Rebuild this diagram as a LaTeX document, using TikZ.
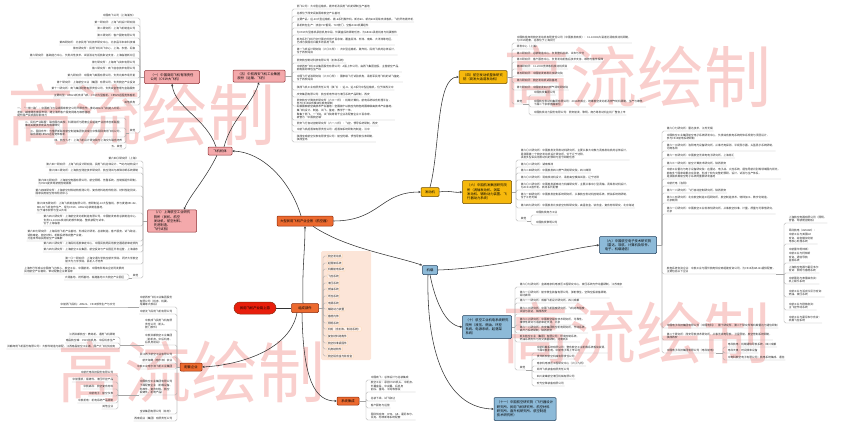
\documentclass[tikz,border=0pt]{standalone}
\usepackage{fontspec}
\setmainfont{Noto Sans CJK SC}
\usetikzlibrary{arrows.meta}

\definecolor{pinkfill}{HTML}{F4A9AB}
\definecolor{pinkdraw}{HTML}{8E2F33}
\definecolor{goldfill}{HTML}{F6B80C}
\definecolor{golddraw}{HTML}{6B4A00}
\definecolor{bluefill}{HTML}{8DBAD8}
\definecolor{bluedraw}{HTML}{1F3F5C}
\definecolor{orangefill}{HTML}{EC6A2F}
\definecolor{orangedraw}{HTML}{8A2A0C}
\definecolor{redfill}{HTML}{E81E0C}
\definecolor{peach}{HTML}{FCE5D8}
\definecolor{markpink}{HTML}{F9CFCD}

\tikzstyle{hub}=[draw, line width=0.5pt, rounded corners=1pt, inner sep=1.2pt, align=left, font=\fontsize{3.3}{4.2}\selectfont]
\tikzstyle{pinkhub}=[hub, fill=pinkfill, draw=pinkdraw]
\tikzstyle{goldhub}=[hub, fill=goldfill, draw=golddraw]
\tikzstyle{bluehub}=[hub, fill=bluefill, draw=bluedraw]
\tikzstyle{orangehub}=[hub, fill=orangefill, draw=orangedraw]
\tikzstyle{leaf}=[inner sep=0.6pt, align=left, text=black!85, font=\fontsize{2.7}{3.8}\selectfont]
\tikzstyle{pitem}=[leaf, draw=orange!30, fill=white!55!peach, rounded corners=0.6pt, inner sep=0.8pt]
\tikzstyle{twig}=[draw=black!35, line width=0.3pt, rounded corners=1.6pt]
\tikzstyle{branch}=[draw=black!80, line width=0.55pt, -{Stealth[length=2.4pt,width=2.2pt]}]
\tikzstyle{watermark}=[text=markpink, font=\fontsize{67}{67}\selectfont]

\begin{document}
\begin{tikzpicture}[x=1pt,y=-1pt]
\useasboundingbox (0,0) rectangle (862,429);

% watermarks
\foreach \wx/\wy in {637/77, 142/115, 191/372, 636/333}
  \node[watermark] at (\wx,\wy) {高流绘制};

% hubs
\node[orangehub, minimum width=56pt, minimum height=10pt] (quanjing) at (305,221) {大型民用飞机产业全景（航空器）};
\node[pinkhub, minimum width=24pt, minimum height=8pt] (jiti) at (220,151) {飞机机体};
\node[pinkhub, minimum width=55pt, minimum height=13pt] (yi) at (172,77) {（一）中国商用飞机有限责任\\公司（C919大飞机）};
\node[pinkhub, minimum width=52pt, minimum height=12pt] (wu) at (259,76) {（五）中航西安飞机工业集团\\股份（运输、飞豹）};
\node[pinkhub, minimum width=49pt, minimum height=22pt] (ba) at (172,221) {（八）上海航空工业研究\\院所（民机、航空\\发动机、航空材料、\\先进制造、\\飞行试验）};
\node[goldhub, minimum width=18pt, minimum height=9pt] (fadongji) at (430,192) {发动机};
\node[goldhub, minimum width=48pt, minimum height=13pt] (si) at (483,77) {（四）航空发动机整体研究\\院（商发大涵道发动机）};
\node[goldhub, minimum width=49pt, minimum height=23pt] (liu) at (487,192) {（六）中国航发集团研究院\\所（涡轴发动机、涡桨\\发动机、辅助动力装置、飞\\行器动力系统）};
\node[bluehub, minimum width=15pt, minimum height=9pt] (jizai) at (430,270) {机载};
\node[bluehub, minimum width=57pt, minimum height=17pt] (jiu) at (628,245) {（九）中国航空电子技术研究院\\（雷达、导航、计算机及软件、\\电子、机载通信）};
\node[bluehub, minimum width=49pt, minimum height=23pt] (shi) at (487,327) {（十）航空工业机电系统研究\\院所（液压、燃油、环控\\系统、电源系统、起落架\\系统）};
\node[bluehub, minimum width=62pt, minimum height=23pt] (shiyi) at (525,409) {（十一）中国航空研究院（飞行器设计\\研究所、民用飞机研究所、航空材料\\研究所、直升机研究所、航空制造\\技术研究所）};
\node[orangehub, minimum width=27pt, minimum height=9pt] (bujian) at (305,308) {组成部件};
\node[hub, fill=redfill, draw=orangedraw, rounded corners=6pt, minimum width=42pt, minimum height=12pt, align=center] (shangyou) at (255,308) {民用飞机产业链上游};
\node[orangehub, minimum width=22pt, minimum height=8pt] (peitao) at (191,367) {配套企业};
\node[orangehub, minimum width=22pt, minimum height=8pt] (xitong) at (348,401) {系统集成};

% branches
\draw[branch] ([xshift=-4pt]quanjing.north) .. controls (290,180) and (262,152) .. (jiti.east);
\draw[branch] ([xshift=-4pt]jiti.north) .. controls (206,118) and (175,108) .. (yi.south);
\draw[branch] ([xshift=4pt]jiti.north) .. controls (232,118) and (252,105) .. (wu.south);
\draw[branch] ([xshift=-3pt]jiti.south) .. controls (205,180) and (190,195) .. ([xshift=12pt]ba.north);
\draw[branch] (quanjing.east) .. controls (380,221) and (380,192) .. (fadongji.west);
\draw[branch] (fadongji.north) .. controls (440,150) and (436,77) .. (si.west);
\draw[branch] (fadongji.east) .. controls (450,190) and (452,193) .. (liu.west);
\draw[branch] ([xshift=8pt]quanjing.south) .. controls (345,248) and (395,256) .. (jizai.north west);
\draw[branch] (jizai.east) .. controls (500,268) and (560,250) .. (jiu.west);
\draw[branch] (jizai.south) .. controls (435,300) and (445,325) .. (shi.west);
\draw[branch] ([xshift=-2pt]jizai.south) .. controls (426,360) and (450,408) .. (shiyi.west);
\draw[branch] ([xshift=-2pt]bujian.north) .. controls (302,270) and (305,250) .. (quanjing.south);
\draw[line width=0.55pt, black!80] (shangyou) -- (bujian);
\draw[branch] ([xshift=-8pt]bujian.south) .. controls (290,350) and (240,365) .. (peitao.east);
\draw[branch] ([xshift=-3pt]bujian.south) .. controls (303,380) and (315,401) .. (xitong.west);

% (一) list
\coordinate (yi-s) at (140,77);
\draw[twig] (yi.west) -- (yi-s);
\foreach \y/\t [count=\i] in {
  18/{中国商飞公司（上海浦东）},
  25/{第一研究所：上海飞机设计研究院},
  31/{第二研究所：上海飞机制造公司},
  38/{第三研究所：客户服务有限公司},
  45/{第四研究所：北京民用飞机技术研究中心，北京昌平未来科技城},
  51/{第五研究所：民用飞机试飞中心，上海、东营、阎良},
  58/{第六研究所：基础能力中心，负责共性技术、试验验证与适航取证支持，上海临港新片区},
  65/{第七研究所：上海商飞资本有限公司},
  71/{第八研究所：商飞信息技术有限公司},
  78/{第九研究所：中国商飞美国有限公司，负责北美市场开拓},
  85/{第十研究所：上海航空工业（集团）有限公司，负责航空产业投资},
  91/{第十一研究所：商飞集团财务有限责任公司，负责资金管理与金融服务},
  98/{主要机型：ARJ21新支线飞机、C919大型客机、CR929远程宽体客机},
  105/{其他机构}}{
  \node[leaf, anchor=south east] (yi\i) at (136,\y) {\t};
  \draw[twig] (yi-s) |- (yi\i.south east) -- (yi\i.south west);
}
\node[leaf, anchor=south east] (yiqt) at (136,133) {其他};
\draw[twig] (yi-s) |- (yiqt.south east) -- (yiqt.south west);
\coordinate (yiqt-s) at (126,133);
\draw[twig] (yiqt.south west) -- (yiqt-s);
\foreach \y/\t [count=\i] in {
  118/{一、“一带一路”：中国商飞与沿线国家航空公司开展合作，推动ARJ21飞机进入印尼、\\老挝、越南等东南亚市场，建立海外客户服务网络与维修基地，\\提升国产民机国际影响力},
  128/{二、民机产业联盟：联合国内高校、科研院所与配套企业组建产业技术创新联盟，\\推动关键技术攻关与成果转化},
  137/{三、国际合作：与俄罗斯联合航空制造集团合资成立中俄国际商用飞机公司，\\联合研制CR929远程宽体客机},
  143/{四、航空人才：上海飞机设计研究院与上海交大联合培养},
  149/{五、其他}}{
  \node[leaf, anchor=south east] (yiq\i) at (123,\y) {\t};
  \draw[twig] (yiqt-s) |- (yiq\i.south east) -- (yiq\i.south west);
}

% (五) list
\coordinate (wu-s) at (292,76);
\draw[twig] (wu.east) -- (wu-s);
\foreach \y/\t [count=\i] in {
  9/{西飞公司：大中型运输机、轰炸机及民用飞机的研制生产基地},
  16/{总部位于西安阎良国家航空产业基地},
  22/{主要产品：运-20大型运输机、轰-6系列轰炸机、新舟60、新舟600涡桨支线客机、飞豹歼击轰炸机},
  28/{民机转包生产：波音737垂尾、747舱门、空客A320机翼组件},
  35/{为C919大型客机承担机身中段、外翼盒段的研制任务，为ARJ21承担机身与机翼部件},
  45/{新舟系列飞机已交付国内外用户百余架，覆盖亚洲、非洲、南美、大洋洲等地区，\\已成为我国出口最多的民用飞机},
  55/{第一飞机设计研究院（六〇三所）：大中型运输机、轰炸机、民用飞机的总体设计，\\位于西安阎良},
  63/{西安航空制动科技有限公司（刹车系统）},
  72/{中航西安飞机工业集团股份有限公司：A股上市公司，由西飞集团控股，主营航空产品，\\拥有国际转包生产线},
  82/{中国飞行试验研究院（六三〇所）：国家级飞行试验机构，承担军民用飞机的试飞鉴定，\\位于西安阎良},
  90/{陕西飞机工业有限责任公司（陕飞）：运-8、运-9系列中型运输机，位于陕西汉中},
  97/{庆安集团有限公司：航空机电作动与液压系统产品研制，西安},
  106/{西安航空计算技术研究所（六三一所）：机载计算机、航电系统综合处理平台，\\参与C919综合模块化航电研制},
  120/{阎良国家航空高技术产业基地：全国首个以航空为特色的国家级高技术产业基地，\\集飞机设计、制造、试飞、鉴定、教学于一体，\\聚集了西飞、一飞院、试飞院等骨干企业及配套企业三百余家，\\被誉为“中国航空城”},
  126/{西安飞行自动控制研究所（六一八所）：飞控、惯导系统研制，西安},
  132/{中航飞机起落架有限责任公司：起落架系统研制与制造，汉中},
  142/{陕西宝成航空仪表有限责任公司：航空陀螺、惯性导航仪表研制，\\陕西宝鸡}}{
  \node[leaf, anchor=south west] (wu\i) at (296,\y) {\t};
  \draw[twig] (wu-s) |- (wu\i.south west) -- (wu\i.south east);
}

% (八) list
\coordinate (ba-s) at (143,221);
\draw[twig] (ba.west) -- (ba-s);
\foreach \y/\t [count=\i] in {
  161/{第六四〇研究所（上海）},
  167/{第六四一研究所：上海飞机设计研究院，民用飞机总体设计、气动与结构设计},
  173/{第六四二研究所：上海航空测控技术研究所，航空测试与故障诊断系统研制},
  186/{第六四三研究所：上海航空电器有限公司，航空照明、告警系统、控制板组件研制，\\为C919提供驾驶舱控制面板},
  196/{第六四四研究所：上海航空材料结构检测公司，复合材料结构件检测、材料性能测试，\\国家民用航空材料检测中心},
  213/{第六四五研究所：上海飞机制造有限公司，曾研制运-10大型客机，参与麦道MD-82、\\MD-90飞机合作生产，现为C919、ARJ21总装制造基地，\\位于浦东祝桥与宝山大场},
  226/{第六四六研究所：上海航空发动机制造有限公司，中国航发商发总装制造中心，\\负责CJ-1000A发动机的部件制造、整机装配与试车，\\位于上海临港},
  241/{第六四七研究所：上海民用飞机产业基地，形成设计研发、总装制造、客户服务、试飞取证、\\适航审定、航空材料、机载系统等完整产业链，\\打造世界级民用航空产业集群},
  246/{第六四八研究所：上海民机适航审定中心，中国民航局民用航空器适航审定机构},
  252/{第六四九研究所：上海航空工业集团，航空投资与产业园区开发运营，上海浦东},
  264/{第一〇一研究所：上海交通大学航空航天学院、同济大学航空\\航天与力学学院，民机人才培养}}{
  \node[leaf, anchor=south east] (ba\i) at (139,\y) {\t};
  \draw[twig] (ba-s) |- (ba\i.south east) -- (ba\i.south west);
}
\node[leaf, anchor=south east] (baqt) at (139,278) {其他};
\draw[twig] (ba-s) |- (baqt.south east) -- (baqt.south west);
\coordinate (baqt-s) at (129,278);
\draw[twig] (baqt.south west) -- (baqt-s);
\foreach \y/\t [count=\i] in {
  274/{上海市已形成以中国商飞为核心，航空工业、中国航发、中国电科等央企协同发展的\\民用航空产业格局，带动配套企业数百家},
  280/{大场基地、祝桥基地、临港基地三大航空产业园区}}{
  \node[leaf, anchor=south east] (baq\i) at (125,\y) {\t};
  \draw[twig] (baqt-s) |- (baq\i.south east) -- (baq\i.south west);
}

% (四) list
\coordinate (si-s) at (512,77);
\draw[twig] (si.east) -- (si-s);
\foreach \y/\t [count=\i] in {
  43/{中国航发商用航空发动机有限责任公司（中国航发商发）：CJ-1000A大涵道比涡扇发动机研制，\\为C919配套，总部位于上海闵行},
  49/{研发中心（上海）},
  56/{第二研究所：总装制造中心，负责整机总装、试车与交付},
  62/{第三研究所：客户服务中心，负责发动机售后技术支持、维修与备件保障},
  69/{第四研究所：CJ-2000宽体客机发动机项目},
  76/{第五研究所：中国航发商发北京研究院},
  83/{第六研究所：航空发动机试验基地},
  90/{第七研究所：中国航发四川燃气涡轮研究院}}{
  \node[leaf, anchor=south west] (si\i) at (516,\y) {\t};
  \draw[twig] (si-s) |- (si\i.south west) -- (si\i.south east);
}
\node[leaf, anchor=south west] (siqt) at (516,104) {其他};
\draw[twig] (si-s) |- (siqt.south west) -- (siqt.south east);
\coordinate (siqt-s) at (529,104);
\draw[twig] (siqt.south east) -- (siqt-s);
\foreach \y/\t [count=\i] in {
  95/{中国航发集团公司},
  107/{中国航空发动机集团有限公司：2016年成立，统筹航空发动机及燃气轮机研制、生产与维修，\\下属二十余家直属单位},
  115/{中国航发动力股份有限公司：西安航发、黎明、南方等发动机主机厂整合上市}}{
  \node[leaf, anchor=south west] (siq\i) at (533,\y) {\t};
  \draw[twig] (siqt-s) |- (siq\i.south west) -- (siq\i.south east);
}

% (六) list
\coordinate (liu-s) at (516,192);
\draw[twig] (liu.east) -- (liu-s);
\foreach \y/\t [count=\i] in {
  160/{第六〇六研究所：中国航发沈阳发动机研究所，主要从事大中推力涡扇发动机的总体设计，\\是我国第一个航空发动机设计研究所，位于辽宁沈阳，\\承担多型军民用发动机的预研与型号研制任务},
  167/{第六〇八研究所：湖南株洲},
  173/{第六二四研究所：中国航发四川燃气涡轮研究院，四川绵阳},
  180/{第六〇六研究所：涡扇发动机设计，承担高空模拟试验，辽宁沈阳},
  190/{第六〇八研究所：中国航发湖南动力机械研究所，主要从事中小型涡轴、涡桨发动机设计，\\为AC313直升机、新舟系列配套},
  200/{第六一四研究所：中国航发控制系统研究所，从事航空发动机控制系统、燃油系统的研制，\\位于江苏无锡},
  208/{第六四九研究所：中国航发北京航空材料研究院，高温合金、钛合金、复合材料研究，北京海淀}}{
  \node[leaf, anchor=south west] (liu\i) at (520,\y) {\t};
  \draw[twig] (liu-s) |- (liu\i.south west) -- (liu\i.south east);
}
\node[leaf, anchor=south west] (liuqt) at (520,221) {其他};
\draw[twig] (liu-s) |- (liuqt.south west) -- (liuqt.south east);
\coordinate (liuqt-s) at (531,221);
\draw[twig] (liuqt.south east) -- (liuqt-s);
\foreach \y/\t [count=\i] in {
  215/{中国航发南方工业},
  225/{中国航发黎明公司}}{
  \node[leaf, anchor=south west] (liuq\i) at (535,\y) {\t};
  \draw[twig] (liuqt-s) |- (liuq\i.south west) -- (liuq\i.south east);
}

% (九) list
\coordinate (jiu-s) at (662,245);
\draw[twig] (jiu.east) -- (jiu-s);
\foreach \y/\t [count=\i] in {
  131/{第六〇七研究所：雷达技术，江苏无锡},
  141/{中国航空工业集团航空电子系统研发中心，负责综合航电系统的体系规划与顶层设计，\\参与C919航电系统研制},
  151/{第六一三研究所：洛阳电光设备研究所，从事光电探测、平视显示器、头盔显示系统研制，\\河南洛阳},
  158/{第六一五研究所：中国航空无线电电子研究所，上海徐汇},
  166/{第六三一研究所：航空计算技术研究所，陕西西安},
  179/{中航工业雷达与电子设备研究院：在雷达、电子战、火控系统、通信导航识别等领域国内领先，\\拥有多个国家级重点实验室，形成了较为完整的预研、设计、试验与生产体系，\\是我国机载航空电子系统的重要研发基地},
  186/{中航光电（洛阳）},
  193/{第六一八研究所：飞行自动控制研究所，陕西西安},
  203/{第六二五研究所：北京航空制造工程研究所，航空制造技术、特种加工、数字化制造，\\北京朝阳},
  214/{第六一〇研究所：中国航空工业标准化研究所，从事航空标准、计量、质量与可靠性研究，\\北京},
  274/{航电系统合资企业：中航工业与国外航电供应商组建合资公司，为C919及ARJ21提供配套，\\主要包括以下企业},
  328/{中国电子科技集团有限公司（中国电科）：第十研究所、第二十研究所等机载雷达与通信研制},
  340/{第二十研究所：西安导航技术研究所，从事无线电导航、卫星导航、航空管制系统研制，\\陕西西安},
  353/{中国电子科技集团有限公司（电科航电）}}{
  \node[leaf, anchor=south west] (jiu\i) at (666,\y) {\t};
  \draw[twig] (jiu-s) |- (jiu\i.south west) -- (jiu\i.south east);
}
\coordinate (jiuh-s) at (784,274);
\draw[twig] (jiu11.south east) -- (jiuh-s);
\foreach \y/\t [count=\i] in {
  223/{上海航空电器有限公司（照明、\\告警、驾驶舱控制板）},
  244/{昂际航电（AVIAGE）：\\中航工业与美国GE\\合资，综合模块化航\\电核心处理系统},
  263/{中航雷华柯林斯：\\中航工业与柯林斯\\合资，通信导航\\监视系统},
  273/{上海航空电器与霍尼韦尔\\合资：照明与客舱系统},
  284/{中航国际与泰雷兹合资：\\机上娱乐系统},
  297/{中航工业与派克汉尼汾合资：\\燃油、液压系统},
  310/{中航工业与穆格合资：\\主飞控作动系统},
  323/{中航工业与霍尼韦尔合资：\\机载飞控系统}}{
  \node[leaf, anchor=south west] (jiuh\i) at (788,\y) {\t};
  \draw[twig] (jiuh-s) |- (jiuh\i.south west) -- (jiuh\i.south east);
}
\coordinate (jiuq-s) at (723,353);
\draw[twig] (jiu14.south east) -- (jiuq-s);
\foreach \y/\t [count=\i] in {
  347/{电科航电：机载通信导航系统，四川成都},
  353/{电科天奥：时间频率设备},
  360/{中电科航空电子有限公司：航电系统集成、通信}}{
  \node[leaf, anchor=south west] (jiuq\i) at (727,\y) {\t};
  \draw[twig] (jiuq-s) |- (jiuq\i.south west) -- (jiuq\i.south east);
}

% (十) list
\coordinate (shi-s) at (515,327);
\draw[twig] (shi.east) -- (shi-s);
\foreach \y/\t [count=\i] in {
  287/{第六〇九研究所：金城南京机电液压工程研究中心，液压系统与作动器研制，江苏南京},
  298/{第六一〇研究所：航宇救生装备有限公司，弹射救生、空降空投装备研制，\\湖北襄阳},
  303/{第六一一研究所：成都飞机设计研究所，四川成都},
  314/{第六二三研究所：中国飞机强度研究所，飞机结构强度\\试验与验证，陕西西安},
  325/{第六二六研究所：中国航空综合技术研究所，可靠性、\\维修性研究与适航审定支持，北京},
  333/{第六一八研究所：庆安集团航空机电研究所，作动系统、\\高升力系统研制，陕西西安},
  342/{新乡航空工业（集团）有限公司：环境控制系统、\\燃油系统附件与热交换器研制，河南新乡}}{
  \node[leaf, anchor=south west] (shi\i) at (519,\y) {\t};
  \draw[twig] (shi-s) |- (shi\i.south west) -- (shi\i.south east);
}
\node[leaf, anchor=south west] (shiqt) at (519,370) {其他};
\draw[twig] (shi-s) |- (shiqt.south west) -- (shiqt.south east);
\coordinate (shiqt-s) at (532,370);
\draw[twig] (shiqt.south east) -- (shiqt-s);
\foreach \y/\t [count=\i] in {
  353/{中航机载系统有限公司：整合航空工业机载系统板块资源，\\下属中航机电、中航电子等上市公司},
  359/{贵州新安航空机械有限责任公司},
  366/{南京机电液压工程研究中心（六〇九所）},
  372/{郑州飞机装备有限责任公司},
  379/{四川凌峰航空液压机械有限公司},
  386/{宏光空降装备有限公司}}{
  \node[leaf, anchor=south west] (shiq\i) at (536,\y) {\t};
  \draw[twig] (shiqt-s) |- (shiq\i.south west) -- (shiq\i.south east);
}

% 组成部件 list
\fill[peach, rounded corners=1.5pt] (321,251) rectangle (371,360);
\coordinate (bj-s) at (323,308);
\draw[twig] (bujian.east) -- (bj-s);
\foreach \y/\t [count=\i] in {
  256/航空发动机, 263/起落架系统, 269/机载航电系统, 276/飞控系统,
  283/液压系统, 289/燃油系统, 296/环控系统, 303/电源系统,
  309/辅助动力装置, 316/客舱内饰, 323/照明系统, 329/{机轮（含刹车、制动系统）},
  336/复合材料结构件, 343/航空标准紧固件, 349/机身结构件, 356/航空铝合金与钛合金}{
  \node[pitem, anchor=west] (bj\i) at (327,\y) {\t};
  \draw[twig] (bj-s) |- (bj\i.west);
}

% 系统集成 list
\coordinate (xt-s) at (366,401);
\draw[twig] (xitong.east) -- (xt-s);
\foreach \y/\t [count=\i] in {
  380/{中国商飞：总体设计与总装集成},
  392/{航空工业：承担C919机头、中机身、\\外翼盒段、中央翼、后机身\\前段、垂尾、平尾等部段},
  401/{总装下线、试飞取证},
  408/{客户服务与运营},
  420/{国际供应商：CFM、GE、霍尼韦尔、\\派克、柯林斯等系统配套}}{
  \node[leaf, anchor=south west] (xt\i) at (370,\y) {\t};
  \draw[twig] (xt-s) |- (xt\i.south west) -- (xt\i.south east);
}

% 配套企业 list
\coordinate (pt-s) at (177,367);
\draw[twig] (peitao.west) -- (pt-s);
\foreach \y/\t [count=\i] in {
  307/{中航西安飞机工业集团股份\\有限公司（机身、机翼、\\尾翼等大部段）},
  314/{中航沈飞民用飞机有限公司},
  330/{中航成飞民用飞机有限\\责任公司（机头、\\舱门部件）},
  345/{中航洪都航空工业集团\\（前机身、中后机身、\\后机身前段）},
  357/{浙江西子航空工业有限公司},
  363/{航天海鹰（哈尔滨）钛业},
  369/{中航工业哈尔滨飞机工业集团},
  395/{中国航空工业集团有限公司\\下属配套企业（机载设备、\\标准件、复合材料、航空\\锻铸件、机电产品）},
  414/{宝钛集团有限公司（钛材）},
  421/{西南铝业（集团）有限责任公司}}{
  \node[leaf, anchor=south east] (pt\i) at (173,\y) {\t};
  \draw[twig] (pt-s) |- (pt\i.south east) -- (pt\i.south west);
}
\node[leaf, anchor=south east] (pta) at (116,307) {中航西飞民机：ARJ21、C919部件生产与交付};
\draw[twig] (pt1.south west) -- (pta.south east) -- (pta.south west);
\coordinate (ptb-s) at (120,345);
\draw[twig] (pt4.south west) -- (ptb-s);
\foreach \y/\t [count=\i] in {
  337/{江西洪都航空：教练机、通用飞机研制},
  343/{南昌航空城：C919前机身、中后机身生产},
  349/{洪都商用飞机股份有限公司：大部件制造与装配，江西南昌航空工业城，国产大飞机供应商}}{
  \node[leaf, anchor=south east] (ptb\i) at (116,\y) {\t};
  \draw[twig] (ptb-s) |- (ptb\i.south east) -- (ptb\i.south west);
}
\coordinate (ptc-s) at (118,395);
\draw[twig] (pt8.south west) -- (ptc-s);
\foreach \y/\t [count=\i] in {
  375/{中航光电科技股份有限公司}, 382/{中航重机：锻铸件、液压环控产品},
  389/{中航高科：航空复合材料}, 396/{中航电子：航空仪表},
  403/{中航机电：机电系统产品研制}, 409/{其他企业}}{
  \node[leaf, anchor=south east] (ptc\i) at (114,\y) {\t};
  \draw[twig] (ptc-s) |- (ptc\i.south east) -- (ptc\i.south west);
}

\end{tikzpicture}
\end{document}
